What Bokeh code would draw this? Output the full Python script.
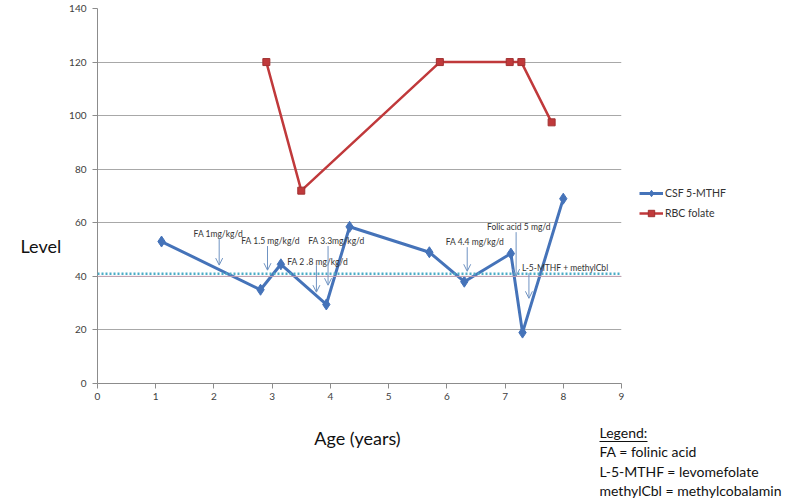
from bokeh.plotting import figure
from bokeh.layouts import column, row
from bokeh.models import (Label, Arrow, OpenHead, Legend, LegendItem, Span,
                          FixedTicker, Range1d)
from bokeh.embed import file_html
from bokeh.resources import INLINE

# ---- data ----
csf_age = [1.1, 2.8, 3.15, 3.93, 4.33, 5.7, 6.3, 7.1, 7.3, 8.0]
csf_level = [53, 35, 44.5, 29.5, 58.5, 49, 38, 48.5, 19, 69]
rbc_age = [2.9, 3.5, 5.88, 7.08, 7.28, 7.8]
rbc_level = [120, 72, 120, 120, 120, 97.5]
threshold_dotted = 41
threshold_line = 40

x_ticks = [0, 1, 2, 3, 4, 5, 6, 7, 8, 9]
y_ticks = [0, 20, 40, 60, 80, 100, 120, 140]

ann_text = ["FA 1mg/kg/d", "FA 1.5 mg/kg/d", "FA 2 .8 mg/kg/d", "FA 3.3mg/kg/d",
            "FA 4.4 mg/kg/d", "Folic acid 5 mg/d", "L-5-MTHF + methylCbl"]
ann_text_x = [1.65, 2.47, 3.26, 3.62, 5.98, 6.69, 7.29]
ann_text_y = [55.8, 53.2, 45.3, 53.2, 52.8, 58.4, 43.1]
arrow_x = [2.09, 2.92, 3.76, 3.96, 6.35, 7.19, 7.41]
arrow_y0 = [54.3, 51.3, 44.2, 51.3, 50.9, 56.5, 41.2]
arrow_y1 = [44.2, 42.3, 34.1, 36.7, 41.9, 40.1, 31.8]

series_names = ["CSF 5-MTHF", "RBC folate"]
x_title = "Age (years)"
y_title = "Level"
notes_title = "Legend:"
notes = ["FA = folinic acid", "L-5-MTHF = levomefolate", "methylCbl = methylcobalamin"]

FONT = "Lato"
BLUE = "#4573B9"
RED = "#C0393B"
ARROW = "#6f93c2"
TOP_H = 405


def blank(width, height, xr=None, yr=None):
    f = figure(width=width, height=height, output_backend="svg", toolbar_location=None,
               x_range=xr or Range1d(0, width), y_range=yr or Range1d(0, height),
               min_border=0, x_axis_location=None, y_axis_location=None)
    f.outline_line_color = None
    f.grid.visible = False
    return f


# ---- left strip with the y title ----
left = blank(66, TOP_H)
left.add_layout(Label(x=20, y=TOP_H - 256, text=y_title, text_font=FONT,
                      text_font_size="18px", text_color="#111111",
                      text_baseline="middle", text_align="left"))

# ---- main plot ----
p = figure(width=561, height=TOP_H, output_backend="svg", toolbar_location=None,
           x_range=Range1d(0, 9), y_range=Range1d(0, 140),
           min_border_left=30, min_border_right=6, min_border_top=8,
           min_border_bottom=TOP_H - 383)
p.outline_line_color = None

for ax in (p.xaxis[0], p.yaxis[0]):
    ax.axis_line_color = "#8c8c8c"
    ax.major_tick_line_color = "#8c8c8c"
    ax.major_tick_in = 0
    ax.major_tick_out = 5
    ax.minor_tick_line_color = None
    ax.major_label_text_font = FONT
    ax.major_label_text_font_size = "10px"
    ax.major_label_text_color = "#404040"
p.xaxis.major_label_standoff = 4
p.yaxis.major_label_standoff = 6
p.xaxis.ticker = FixedTicker(ticks=x_ticks)
p.yaxis.ticker = FixedTicker(ticks=y_ticks)
p.xgrid.grid_line_color = None
p.ygrid.ticker = FixedTicker(ticks=y_ticks[1:])
p.ygrid.grid_line_color = "#a8a8a8"

p.add_layout(Span(location=threshold_line, dimension="width", line_color="#c4a2b4", line_width=1))
p.add_layout(Span(location=threshold_dotted, dimension="width", line_color="#4BACC6",
                  line_width=2.5, line_dash="2 2"))

p.line(csf_age, csf_level, line_color=BLUE, line_width=3)
p.scatter(csf_age, csf_level, marker="diamond", size=11, fill_color=BLUE, line_color=BLUE)
p.line(rbc_age, rbc_level, line_color=RED, line_width=2.5)
p.scatter(rbc_age, rbc_level, marker="square", size=7, fill_color=RED, line_color="#a03030")

for t, tx, ty in zip(ann_text, ann_text_x, ann_text_y):
    p.add_layout(Label(x=tx, y=ty, text=t, text_font=FONT, text_font_size="8.5px",
                       text_color="#333333", text_baseline="middle", text_align="left"))
for ax_, y0, y1 in zip(arrow_x, arrow_y0, arrow_y1):
    p.add_layout(Arrow(x_start=ax_, y_start=y0, x_end=ax_, y_end=y1,
                       line_color=ARROW, line_width=1,
                       end=OpenHead(size=7, line_color=ARROW, line_width=1)))

# ---- legend strip (series re-drawn out of view so the legend can show their glyphs) ----
lg = blank(792 - 66 - 561, TOP_H, xr=Range1d(1000, 1001), yr=Range1d(1000, 1001))
d1 = lg.line(csf_age, csf_level, line_color=BLUE, line_width=3)
d1m = lg.scatter(csf_age, csf_level, marker="diamond", size=10, fill_color=BLUE, line_color=BLUE)
d2 = lg.line(rbc_age, rbc_level, line_color=RED, line_width=2.5)
d2m = lg.scatter(rbc_age, rbc_level, marker="square", size=7, fill_color=RED, line_color="#a03030")
legend = Legend(items=[LegendItem(label=series_names[0], renderers=[d1, d1m]),
                       LegendItem(label=series_names[1], renderers=[d2, d2m])],
                location=(12, TOP_H - 243), orientation="vertical",
                border_line_alpha=0, background_fill_alpha=0,
                padding=0, margin=0, spacing=4, label_standoff=2,
                glyph_width=24, glyph_height=16, label_height=16,
                label_text_font=FONT, label_text_font_size="10.5px",
                label_text_color="#333333")
lg.add_layout(legend, "center")

# ---- bottom strip: x title and footnote legend ----
BOT_H = 95
bot = blank(792, BOT_H)
y0b = TOP_H + BOT_H
bot.add_layout(Label(x=357, y=y0b - 437, text=x_title, text_font=FONT,
                     text_font_size="18px", text_color="#111111",
                     text_baseline="middle", text_align="center"))
bot.add_layout(Label(x=599, y=y0b - 432, text=notes_title, text_font=FONT,
                     text_font_size="14px", text_color="#111111",
                     text_baseline="middle", text_align="left"))
bot.segment(x0=[599], y0=[y0b - 441], x1=[647], y1=[y0b - 441],
            line_color="#111111", line_width=1)
for i, n in enumerate(notes):
    bot.add_layout(Label(x=599, y=y0b - 451 - 19.5 * i, text=n, text_font=FONT,
                         text_font_size="14px", text_color="#111111",
                         text_baseline="middle", text_align="left"))

layout = column(row(left, p, lg), bot)
open("out.html", "w").write(file_html(layout, INLINE))
